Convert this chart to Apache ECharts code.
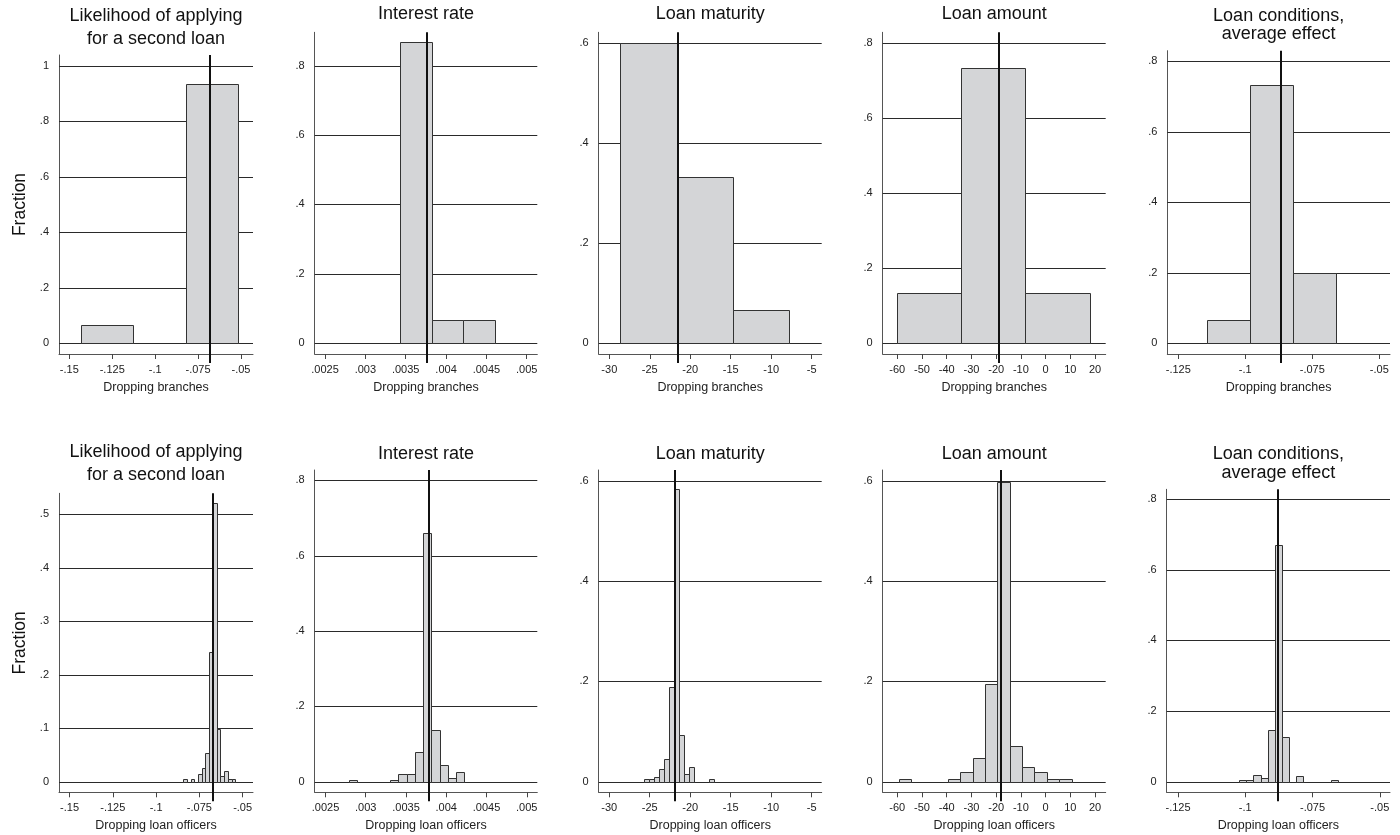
<!DOCTYPE html>
<html>
<head>
<meta charset="utf-8">
<script src="https://cdn.jsdelivr.net/npm/echarts@6/dist/echarts.min.js"></script>
<style>
  html, body { margin: 0; padding: 0; background: #ffffff; }
  #chart { width: 1400px; height: 835px; }
</style>
</head>
<body>
<div id="chart"></div>
<script>
// ---------------- DATA ----------------
const panelTitles = ['Likelihood of applying\nfor a second loan', 'Interest rate', 'Loan maturity', 'Loan amount', 'Loan conditions,\naverage effect'];
const rowAxisNames = ['Dropping branches', 'Dropping loan officers'];
const yAxisTitle = 'Fraction';

// x tick labels per column
const xTicksLikelihood = [-0.15, -0.125, -0.1, -0.075, -0.05];
const xTicksInterest   = [0.0025, 0.003, 0.0035, 0.004, 0.0045, 0.005];
const xTicksMaturity   = [-30, -25, -20, -15, -10, -5];
const xTicksAmount     = [-60, -50, -40, -30, -20, -10, 0, 10, 20];
const xTicksConditions = [-0.125, -0.1, -0.075, -0.05];

// y tick labels per panel
const yTicksBranches = [[0, 0.2, 0.4, 0.6, 0.8, 1], [0, 0.2, 0.4, 0.6, 0.8], [0, 0.2, 0.4, 0.6], [0, 0.2, 0.4, 0.6, 0.8], [0, 0.2, 0.4, 0.6, 0.8]];
const yTicksOfficers = [[0, 0.1, 0.2, 0.3, 0.4, 0.5], [0, 0.2, 0.4, 0.6, 0.8], [0, 0.2, 0.4, 0.6], [0, 0.2, 0.4, 0.6], [0, 0.2, 0.4, 0.6, 0.8]];

// histogram bins: first bin edge, bin width, fraction in each bin
const binStartBranches = [-0.1432, 0.003433, -28.64, -60.2, -0.11418];
const binWidthBranches = [0.0305, 0.00039, 6.95, 26, 0.01605];
const fracBranchesLikelihood = [0.0667, 0, 0.933];
const fracBranchesInterest   = [0.867, 0.0667, 0.0667];
const fracBranchesMaturity   = [0.6, 0.333, 0.0667];
const fracBranchesAmount     = [0.133, 0.733, 0.133];
const fracBranchesConditions = [0.0667, 0.733, 0.2];

const binStartOfficers = [-0.08443, 0.00279, -25.69, -59.5, -0.1022];
const binWidthOfficers = [0.002158, 0.0001025, 0.616, 5, 0.002627];
const fracOfficersLikelihood = [0.005, 0, 0.005, 0, 0.015, 0.025, 0.053, 0.243, 0.52, 0.098, 0.01, 0.02, 0.005, 0.005];
const fracOfficersInterest   = [0.005, 0, 0, 0, 0, 0.005, 0.02, 0.02, 0.078, 0.66, 0.136, 0.044, 0.01, 0.025];
const fracOfficersMaturity   = [0.005, 0.005, 0.01, 0.025, 0.045, 0.189, 0.583, 0.093, 0.015, 0.03, 0, 0, 0, 0.005];
const fracOfficersAmount     = [0.005, 0, 0, 0, 0.005, 0.019, 0.047, 0.194, 0.598, 0.072, 0.029, 0.019, 0.005, 0.005];
const fracOfficersConditions = [0.005, 0.005, 0.02, 0.01, 0.146, 0.67, 0.127, 0, 0.015, 0, 0, 0, 0, 0.005];

// full-sample estimate (vertical reference line)
const estimateBranches = [-0.0682, 0.00376, -21.48, -18.97, -0.0868];
const estimateOfficers = [-0.0671, 0.003786, -21.87, -18.16, -0.08795];

// ---------------- LAYOUT (pixels / axis ranges) ----------------
const layout = [
  { left: 59,    right: 253,    top: 55,    bottom: 354,   xMin: -0.156,   xMax: -0.043,   yMin: -0.0385, yMax: 1.0385 },
  { left: 314.7, right: 537.3,  top: 32.3,  bottom: 354,   xMin: 0.002372, xMax: 0.005131, yMin: -0.0308, yMax: 0.896 },
  { left: 598.7, right: 821.7,  top: 32.3,  bottom: 354,   xMin: -31.31,   xMax: -3.76,    yMin: -0.0214, yMax: 0.621 },
  { left: 882.7, right: 1105.7, top: 32.3,  bottom: 354,   xMin: -65.9,    xMax: 24.3,     yMin: -0.0285, yMax: 0.8276 },
  { left: 1167.3,right: 1390,   top: 50.7,  bottom: 354,   xMin: -0.1291,  xMax: -0.046,   yMin: -0.0303, yMax: 0.829 },
  { left: 59,    right: 253,    top: 493.3, bottom: 792.3, xMin: -0.1561,  xMax: -0.044,   yMin: -0.0198, yMax: 0.539 },
  { left: 314.7, right: 537.3,  top: 470,   bottom: 792.3, xMin: 0.002366, xMax: 0.005131, yMin: -0.0281, yMax: 0.8274 },
  { left: 598.7, right: 821.7,  top: 470,   bottom: 792.3, xMin: -31.3,    xMax: -3.77,    yMin: -0.0211, yMax: 0.6215 },
  { left: 882.7, right: 1105.7, top: 470,   bottom: 792.3, xMin: -65.9,    xMax: 24.3,     yMin: -0.0211, yMax: 0.6215 },
  { left: 1166.7,right: 1390,   top: 489.3, bottom: 792.3, xMin: -0.1292,  xMax: -0.0462,  yMin: -0.030,  yMax: 0.828 }
];
const titleLayout = [
  { top: 5,     lineHeight: 23 }, { top: 3.3, lineHeight: 22 }, { top: 3.3, lineHeight: 22 }, { top: 3.3, lineHeight: 22 }, { top: 6.5, lineHeight: 18.5 },
  { top: 440.4, lineHeight: 23 }, { top: 442.6, lineHeight: 22 }, { top: 442.6, lineHeight: 22 }, { top: 442.6, lineHeight: 22 }, { top: 445, lineHeight: 18.5 }
];

// ---------------- BUILD ----------------
const FONT = '"Liberation Sans", Arial, Helvetica, sans-serif';
const xTicksByCol = [xTicksLikelihood, xTicksInterest, xTicksMaturity, xTicksAmount, xTicksConditions];
const fracBranches = [fracBranchesLikelihood, fracBranchesInterest, fracBranchesMaturity, fracBranchesAmount, fracBranchesConditions];
const fracOfficers = [fracOfficersLikelihood, fracOfficersInterest, fracOfficersMaturity, fracOfficersAmount, fracOfficersConditions];

function fmt(v) {
  const s = String(parseFloat(Number(v).toPrecision(8)));
  return s.replace(/^(-?)0\./, '$1.');
}

const panels = [];
for (let r = 0; r < 2; r++) {
  for (let c = 0; c < 5; c++) {
    const idx = r * 5 + c;
    const start = r === 0 ? binStartBranches[c] : binStartOfficers[c];
    const width = r === 0 ? binWidthBranches[c] : binWidthOfficers[c];
    const frac = r === 0 ? fracBranches[c] : fracOfficers[c];
    panels.push({
      idx, r, c,
      title: panelTitles[c],
      xTicks: xTicksByCol[c],
      yTicks: r === 0 ? yTicksBranches[c] : yTicksOfficers[c],
      bins: frac.map((f, k) => [start + k * width, start + (k + 1) * width, f]),
      estimate: r === 0 ? estimateBranches[c] : estimateOfficers[c],
      xName: rowAxisNames[r]
    });
  }
}

const option = {
  backgroundColor: '#ffffff',
  animation: false,
  title: panels.map(p => {
    const L = layout[p.idx];
    return {
      text: p.title,
      left: (L.left + L.right) / 2,
      top: titleLayout[p.idx].top,
      padding: 0,
      textAlign: 'center',
      textStyle: { fontFamily: FONT, fontSize: 18, fontWeight: 'normal', color: '#111', lineHeight: titleLayout[p.idx].lineHeight }
    };
  }),
  grid: layout.map(L => ({
    left: L.left, top: L.top, width: L.right - L.left, height: L.bottom - L.top,
    containLabel: false, outerBoundsMode: 'none'
  })),
  xAxis: panels.map(p => {
    const L = layout[p.idx];
    return {
      type: 'value', gridIndex: p.idx, min: L.xMin, max: L.xMax,
      axisLine: { show: true, onZero: false, lineStyle: { color: '#555', width: 1 } },
      axisTick: { show: true, length: 5, customValues: p.xTicks, lineStyle: { color: '#444', width: 1 } },
      axisLabel: { customValues: p.xTicks, formatter: fmt, fontFamily: FONT, fontSize: 11, color: '#222', margin: 10 },
      splitLine: { show: false },
      name: p.xName, nameLocation: 'middle', nameGap: 27,
      nameTextStyle: { fontFamily: FONT, fontSize: 12.5, color: '#222' }
    };
  }),
  yAxis: panels.map(p => {
    const L = layout[p.idx];
    return {
      type: 'value', gridIndex: p.idx, min: L.yMin, max: L.yMax,
      axisLine: { show: true, onZero: false, lineStyle: { color: '#555', width: 1 } },
      axisTick: { show: false },
      axisLabel: { customValues: p.yTicks, formatter: fmt, fontFamily: FONT, fontSize: 11, color: '#222', margin: 10 },
      splitLine: { show: false },
      name: p.c === 0 ? yAxisTitle : '', nameLocation: 'middle', nameGap: 30,
      nameTextStyle: { fontFamily: FONT, fontSize: 17.5, color: '#111' }
    };
  }),
  series: []
};

panels.forEach(p => {
  const L = layout[p.idx];
  // horizontal grid lines at the y ticks
  option.series.push({
    type: 'custom', xAxisIndex: p.idx, yAxisIndex: p.idx, z: 1, silent: true,
    data: p.yTicks.map(t => [t]),
    renderItem: function (params, api) {
      const cs = params.coordSys;
      const y = Math.round(api.coord([L.xMin, api.value(0)])[1]) + 0.5;
      return { type: 'line', shape: { x1: cs.x, y1: y, x2: cs.x + cs.width, y2: y }, style: { stroke: '#2a2a2a', lineWidth: 1 } };
    }
  });
  // histogram bars
  option.series.push({
    type: 'custom', xAxisIndex: p.idx, yAxisIndex: p.idx, z: 2, silent: true,
    encode: { x: [0, 1], y: 2 },
    data: p.bins,
    renderItem: function (params, api) {
      const f = api.value(2);
      if (!(f > 0)) return null;
      const a = api.coord([api.value(0), f]);
      const b = api.coord([api.value(1), 0]);
      const x0 = Math.round(a[0]) + 0.5, x1 = Math.round(b[0]) + 0.5;
      const y0 = Math.round(a[1]) + 0.5, y1 = Math.round(b[1]) + 0.5;
      return { type: 'rect', shape: { x: x0, y: y0, width: x1 - x0, height: y1 - y0 }, style: { fill: '#d4d5d7', stroke: '#333', lineWidth: 1 } };
    }
  });
  // vertical line at the full-sample estimate
  option.series.push({
    type: 'custom', xAxisIndex: p.idx, yAxisIndex: p.idx, z: 3, silent: true,
    data: [[p.estimate]],
    renderItem: function (params, api) {
      const cs = params.coordSys;
      const x = Math.round(api.coord([api.value(0), 0])[0]);
      return { type: 'line', shape: { x1: x, y1: cs.y, x2: x, y2: cs.y + cs.height + 9 }, style: { stroke: '#111', lineWidth: 2 } };
    }
  });
});

const chart = echarts.init(document.getElementById('chart'), null, { renderer: 'canvas', width: 1400, height: 835 });
chart.setOption(option);
</script>
</body>
</html>
